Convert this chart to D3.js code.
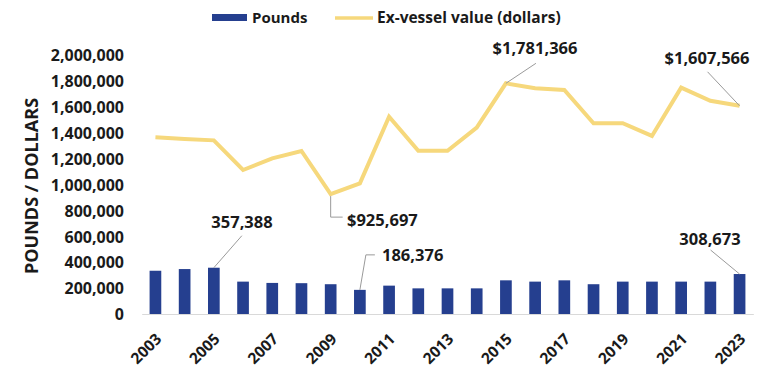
<!DOCTYPE html>
<html>
<head>
<meta charset="utf-8">
<script src="https://cdn.jsdelivr.net/npm/d3@7"></script>
<style>
  html, body { margin: 0; padding: 0; background: #ffffff; }
  svg text { font-family: "Open Sans", "Noto Sans", sans-serif; font-weight: 700; fill: #1a1a1a; }
</style>
</head>
<body>
<svg id="chart" width="774" height="385"></svg>
<script>
const years = ["2003","2004","2005","2006","2007","2008","2009","2010","2011","2012","2013","2014","2015","2016","2017","2018","2019","2020","2021","2022","2023"];
const pounds = [334000,347000,357388,250000,240000,238000,230000,186376,219000,198000,198000,198000,260000,250000,260000,230000,250000,250000,250000,250000,308673];
const exVesselValue = [1364000,1352000,1341000,1112000,1202000,1259000,925697,1009000,1524000,1261000,1261000,1439000,1781366,1743000,1730000,1473000,1473000,1375000,1748000,1647000,1607566];
const yTicks = [0,200000,400000,600000,800000,1000000,1200000,1400000,1600000,1800000,2000000];
const xTickYears = ["2003","2005","2007","2009","2011","2013","2015","2017","2019","2021","2023"];
const legendLabels = ["Pounds","Ex-vessel value (dollars)"];
const yAxisTitle = "POUNDS / DOLLARS";
// annotations: [series, year, label]
const annotations = [
  ["pounds","2005","357,388"],
  ["pounds","2010","186,376"],
  ["pounds","2023","308,673"],
  ["value","2009","$925,697"],
  ["value","2015","$1,781,366"],
  ["value","2023","$1,607,566"]
];

const barColor = "#253F8F";
const lineColor = "#F6D87C";
const leaderColor = "#9a9a9a";

const svg = d3.select("#chart");

const x = d3.scaleBand().domain(years).range([141.7, 753.3]).paddingInner(0.6).paddingOuter(0.27);
const y = d3.scaleLinear().domain([0, 2000000]).range([314, 55]);
const cx = d => x(d) + x.bandwidth() / 2;

// y tick labels
const yAxis = d3.axisLeft(y).tickValues(yTicks).tickFormat(d3.format(",")).tickSize(0).tickPadding(0);
const gy = svg.append("g").attr("transform", "translate(124,0)").call(yAxis);
gy.select(".domain").remove();
gy.selectAll("text").style("font-size", "16px").attr("fill", "#1a1a1a").attr("dy", "0.36em")
  .style("font-family", "'Open Sans', sans-serif").style("font-weight", 700);

// y axis title
svg.append("text")
  .attr("transform", "translate(38,186) rotate(-90)")
  .attr("text-anchor", "middle")
  .style("font-size", "18px")
  .text(yAxisTitle);

// bars
svg.append("g").selectAll("rect").data(years).join("rect")
  .attr("x", (d) => x(d))
  .attr("width", x.bandwidth())
  .attr("y", (d, i) => y(pounds[i]))
  .attr("height", (d, i) => y(0) - y(pounds[i]))
  .attr("fill", barColor);

// x axis
const xAxis = d3.axisBottom(x).tickValues(xTickYears).tickSize(0).tickPadding(0);
const gx = svg.append("g").attr("transform", "translate(0,314)").call(xAxis);
gx.select(".domain").attr("stroke", "#d9d9d9").attr("stroke-width", 1.2);
gx.selectAll("text")
  .style("font-size", "15.5px").attr("fill", "#1a1a1a")
  .style("font-family", "'Open Sans', sans-serif").style("font-weight", 700)
  .attr("text-anchor", "end")
  .attr("dy", null).attr("y", null)
  .attr("transform", "translate(7,26) rotate(-45)");

// line
const line = d3.line().x((d, i) => cx(years[i])).y(d => y(d));
svg.append("path").datum(exVesselValue)
  .attr("d", line)
  .attr("fill", "none")
  .attr("stroke", lineColor)
  .attr("stroke-width", 4)
  .attr("stroke-linejoin", "miter");

// annotations
const ann = svg.append("g");
function val(a) {
  const i = years.indexOf(a[1]);
  return a[0] === "pounds" ? pounds[i] : exVesselValue[i];
}
const annLayout = {
  "357,388":   {pts: (px, py) => [[px, py], [px + 28, py - 32]], tx: 242, ty: 228, anchor: "middle"},
  "186,376":   {pts: (px, py) => [[px, py], [px + 6, py - 35], [px + 15, py - 35]], tx: 382, ty: 261, anchor: "start"},
  "308,673":   {pts: (px, py) => [[px, py], [px - 29, py - 24]], tx: 710, ty: 245, anchor: "middle"},
  "$925,697":  {pts: (px, py) => [[px, py + 2], [px, py + 23], [px + 12, py + 23]], tx: 347, ty: 226, anchor: "start"},
  "$1,781,366":{pts: (px, py) => [[px, py], [px + 30, py - 20]], tx: 535, ty: 54, anchor: "middle"},
  "$1,607,566":{pts: (px, py) => [[px, py], [px - 32, py - 34]], tx: 707, ty: 64, anchor: "middle"}
};
annotations.forEach(a => {
  const px = cx(a[1]);
  const py = y(val(a));
  const L = annLayout[a[2]];
  ann.append("path")
    .attr("d", d3.line()(L.pts(px, py)))
    .attr("fill", "none").attr("stroke", leaderColor).attr("stroke-width", 1);
  ann.append("text")
    .attr("x", L.tx).attr("y", L.ty)
    .attr("text-anchor", L.anchor)
    .style("font-size", "16.5px")
    .text(a[2]);
});

// legend
const lg = svg.append("g");
lg.append("rect").attr("x", 212).attr("y", 14).attr("width", 35).attr("height", 7).attr("fill", barColor);
lg.append("text").attr("x", 252).attr("y", 23).style("font-size", "15px").text(legendLabels[0]);
lg.append("line").attr("x1", 335).attr("x2", 373).attr("y1", 18).attr("y2", 18)
  .attr("stroke", lineColor).attr("stroke-width", 3.5);
lg.append("text").attr("x", 377).attr("y", 23).style("font-size", "15.5px").text(legendLabels[1]);
</script>
</body>
</html>
